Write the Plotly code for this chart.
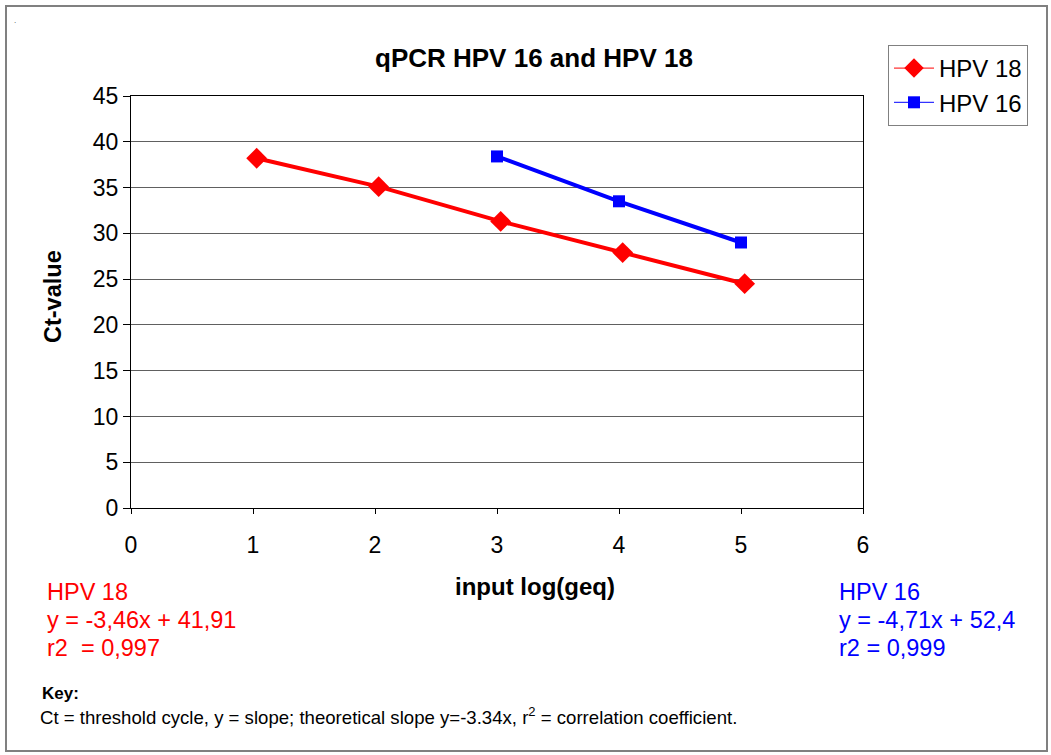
import plotly.graph_objects as go

# ---- data ----
hpv18_x = [1.03, 2.03, 3.03, 4.03, 5.03]
hpv18_ct = [38.2, 35.1, 31.3, 27.9, 24.5]
hpv16_x = [3.0, 4.0, 5.0]
hpv16_ct = [38.4, 33.5, 29.0]
y_ticks = [0, 5, 10, 15, 20, 25, 30, 35, 40, 45]
x_ticks = [0, 1, 2, 3, 4, 5, 6]

W, H = 1051, 755
L, R, T, B = 131, 863, 96, 508  # plot area in pixels


def px(xp):
    return (xp - L) / (R - L)


def py(yp):
    return (B - yp) / (B - T)


FONT = "Liberation Sans, Arial, sans-serif"

fig = go.Figure()
fig.add_trace(go.Scatter(
    x=hpv18_x, y=hpv18_ct, name="HPV 18", mode="lines+markers",
    line=dict(color="#FF0000", width=4), showlegend=False,
    marker=dict(symbol="diamond", size=16, color="#FF0000"),
))
fig.add_trace(go.Scatter(
    x=hpv16_x, y=hpv16_ct, name="HPV 16", mode="lines+markers",
    line=dict(color="#0000FF", width=4), showlegend=False,
    marker=dict(symbol="square", size=12, color="#0000FF"),
))
# legend entries (thin line like the original legend)
fig.add_trace(go.Scatter(
    x=[None], y=[None], name="HPV 18", mode="lines+markers",
    line=dict(color="#FF0000", width=1),
    marker=dict(symbol="diamond", size=15, color="#FF0000"),
))
fig.add_trace(go.Scatter(
    x=[None], y=[None], name="HPV 16", mode="lines+markers",
    line=dict(color="#0000FF", width=1),
    marker=dict(symbol="square", size=12, color="#0000FF"),
))

fig.update_layout(
    width=W, height=H,
    margin=dict(l=L, r=W - R, t=T, b=H - B, pad=0),
    paper_bgcolor="white", plot_bgcolor="white",
    font=dict(family=FONT, size=23, color="black"),
    showlegend=True,
    legend=dict(
        x=px(888), y=py(45), xanchor="left", yanchor="top",
        bordercolor="#808080", borderwidth=1, bgcolor="white",
        font=dict(size=24), itemwidth=40, tracegroupgap=0,
    ),
    xaxis=dict(
        range=[0, 6], tickvals=x_ticks, showgrid=False, zeroline=False,
        showline=True, linecolor="black", linewidth=1, mirror=True,
        ticks="outside", ticklen=5, tickcolor="black",
        ticklabelstandoff=11, tickfont=dict(size=23),
    ),
    yaxis=dict(
        range=[0, 45], tickvals=y_ticks, showgrid=True, gridcolor="#606060",
        gridwidth=1, zeroline=False,
        showline=True, linecolor="black", linewidth=1, mirror=True,
        ticks="outside", ticklen=7, tickcolor="black", tickfont=dict(size=23),
    ),
)

ann = []
ann.append(dict(text="<b>qPCR HPV 16 and HPV 18</b>", x=px(534), y=py(58),
                xanchor="center", yanchor="middle", font=dict(size=26)))
ann.append(dict(text="<b>input log(geq)</b>", x=px(535), y=py(586),
                xanchor="center", yanchor="middle", font=dict(size=24)))
ann.append(dict(text="<b>Ct-value</b>", x=px(53), y=py(297), textangle=-90,
                xanchor="center", yanchor="middle", font=dict(size=23.5)))
red_lines = ["HPV 18", "y = -3,46x + 41,91", "r2  = 0,997"]
blue_lines = ["HPV 16", "y = -4,71x + 52,4", "r2 = 0,999"]
for i, t in enumerate(red_lines):
    ann.append(dict(text=t, x=px(45), y=py(592 + 28 * i), xanchor="left",
                    yanchor="middle", font=dict(size=23.5, color="#FF0000")))
for i, t in enumerate(blue_lines):
    ann.append(dict(text=t, x=px(837), y=py(592 + 28 * i), xanchor="left",
                    yanchor="middle", font=dict(size=23.5, color="#0000FF")))
ann.append(dict(text="<b>Key:</b>", x=px(40), y=py(693), xanchor="left",
                yanchor="middle", font=dict(size=17)))
ann.append(dict(text="Ct = threshold cycle, y = slope; theoretical slope y=-3.34x, r<sup>2</sup> = correlation coefficient.",
                x=px(38), y=py(716), xanchor="left", yanchor="middle",
                font=dict(size=18.6)))
ann.append(dict(text=".", x=px(15), y=py(20), xanchor="center",
                yanchor="middle", font=dict(size=8, color="#404040")))
for a in ann:
    a.update(xref="paper", yref="paper", showarrow=False)
fig.update_layout(annotations=ann)

fig.add_shape(type="rect", xref="paper", yref="paper",
              x0=px(6), x1=px(1047), y0=py(6), y1=py(751),
              line=dict(color="#808080", width=2), fillcolor="rgba(0,0,0,0)",
              layer="below")

fig.write_html("out.html", config={"displayModeBar": False},
               post_script="document.body.style.margin='0';")
